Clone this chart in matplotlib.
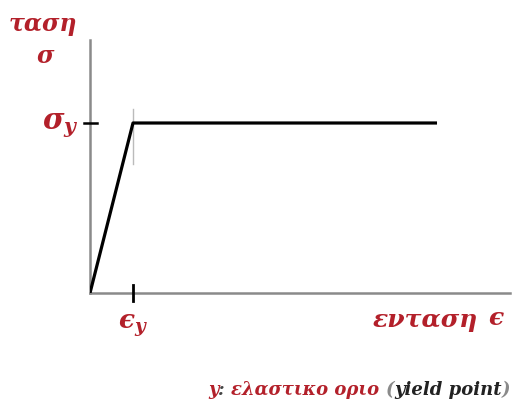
import matplotlib
matplotlib.use("Agg")
import matplotlib.pyplot as plt

# data (normalised: yield strain = 1, yield stress = 1)
strain = [0.0, 1.0, 8.07]
stress = [0.0, 1.0, 1.0]
eps_y = 1.0
sig_y = 1.0

RED = "#b3202a"
GREY = "#8a8a8a"

plt.rcParams['mathtext.fontset'] = 'custom'
plt.rcParams['mathtext.it'] = 'DejaVu Serif:italic:bold'
plt.rcParams['mathtext.rm'] = 'DejaVu Serif:bold'

fig = plt.figure(figsize=(5.17, 4.08), dpi=100)
W, H = 517, 408
x0, x1, y0, y1 = 90, 510, 293, 40
ax = fig.add_axes([x0 / W, 1 - y0 / H, (x1 - x0) / W, (y0 - y1) / H])
ax.set_xlim(0, (x1 - x0) / 43)
ax.set_ylim(0, (y0 - y1) / 170)
for s in ['top', 'right']:
    ax.spines[s].set_visible(False)
for s in ['left', 'bottom']:
    ax.spines[s].set_color(GREY)
    ax.spines[s].set_linewidth(1.8)
    ax.spines[s].set_zorder(1)
ax.set_xticks([])
ax.set_yticks([])

ax.plot(strain, stress, color='black', lw=2.3, solid_capstyle='butt', zorder=3)
# light guide at yield strain
ax.plot([eps_y, eps_y], [0.76, 1.08], color='#bbbbbb', lw=1.0, zorder=2)
# tick marks
ax.plot([eps_y, eps_y], [-0.045, 0.045], color='black', lw=2.0, clip_on=False, zorder=4)
ax.plot([-0.14, 0.16], [sig_y, sig_y], color='black', lw=1.8, clip_on=False, zorder=4)

serif = 'DejaVu Serif'
fkw = dict(color=RED, family=serif, style='italic', weight='bold', ha='center', va='center')
fig.text(43 / W, 1 - 24 / H, 'ταση', fontsize=17, **fkw)
fig.text(45 / W, 1 - 56 / H, 'σ', fontsize=17, **fkw)
fig.text(60 / W, 1 - 126 / H, r'$\sigma_y$', fontsize=21, **fkw)
fig.text(133 / W, 1 - 326 / H, r'$ϵ_y$', fontsize=19, **fkw)
fig.text(425 / W, 1 - 320 / H, 'ενταση', fontsize=18, **fkw)
fig.text(496 / W, 1 - 318 / H, 'ϵ', fontsize=18, **fkw)

# footnote, multi-coloured
parts = [('y', RED), (': ', '#444444'), ('ελαστικο οριο ', RED), ('(', GREY),
         ('yield point', '#222222'), (')', GREY)]
fig.canvas.draw()
r = fig.canvas.get_renderer()
x = 208 / W
for txt, col in parts:
    t = fig.text(x, 1 - 390 / H, txt, fontsize=13, color=col, family=serif,
                 style='italic', weight='bold', ha='left', va='center')
    bb = t.get_window_extent(renderer=r)
    x += bb.width / W

fig.savefig('out.png', dpi=100)
